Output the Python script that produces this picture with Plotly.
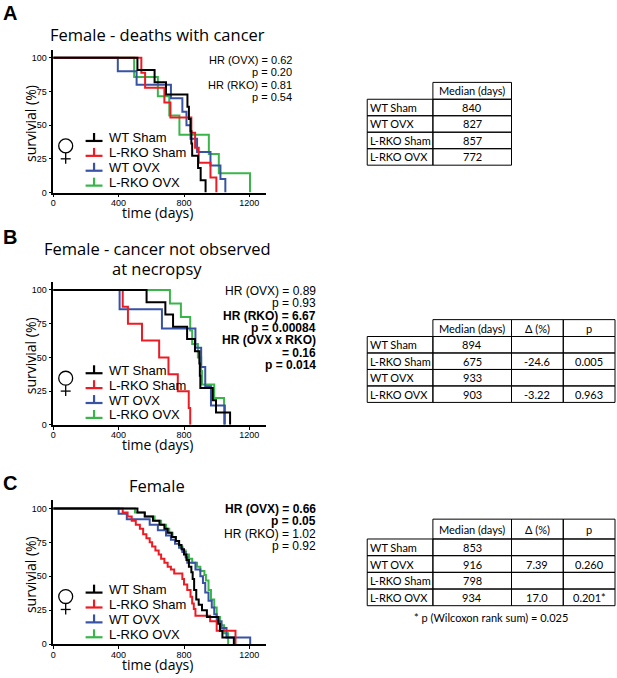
#!/usr/bin/env python3
"""
Kaplan-Meier survival of female WT / L-RKO mice (sham vs OVX), three panels
with hazard-ratio notes and median survival tables.
"""

import plotly.graph_objects as go

W, H = 617, 678

GROUPS = ["WT Sham", "L-RKO Sham", "WT OVX", "L-RKO OVX"]
COLORS = ["#000000", "#ed1c24", "#3953a4", "#39b54a"]
DRAW_ORDER = [3, 2, 1, 0]  # black ends up on top

X_TICKS = [0, 400, 800, 1200]
Y_TICKS = [0, 25, 50, 75, 100]

# --- Panel A: deaths with cancer (time in days, survival in %) ---
a_wt_sham_t = [0, 515, 620, 690, 821, 830, 840, 845, 850, 886, 902, 932]
a_wt_sham_s = [100, 90.9, 81.8, 72.7, 63.6, 54.5, 45.5, 36.4, 27.3, 18.2, 9.1, 0]
a_rko_sham_t = [0, 539, 562, 680, 717, 845, 868, 890, 962, 998]
a_rko_sham_s = [100, 88.9, 77.8, 66.7, 55.6, 44.4, 33.3, 22.2, 11.1, 0]
a_wt_ovx_t = [0, 395, 510, 720, 790, 815, 840, 880, 962, 1023, 1053]
a_wt_ovx_s = [100, 90, 80, 70, 60, 50, 40, 30, 20, 10, 0]
a_rko_ovx_t = [0, 495, 640, 710, 772, 952, 1013, 1204]
a_rko_ovx_s = [100, 85.7, 71.4, 57.1, 42.9, 28.6, 14.3, 0]

# --- Panel B: cancer not observed at necropsy ---
b_wt_sham_t = [0, 571, 686, 733, 819, 867, 894, 897, 900, 976, 996, 1082]
b_wt_sham_s = [100, 90.9, 81.8, 72.7, 63.6, 54.5, 45.5, 36.4, 27.3, 18.2, 9.1, 0]
b_rko_sham_t = [0, 425, 457, 543, 648, 705, 762, 829, 838]
b_rko_sham_s = [100, 87.5, 75, 62.5, 50, 37.5, 25, 12.5, 0]
b_wt_ovx_t = [0, 406, 665, 870, 905, 930, 965, 1050]
b_wt_ovx_s = [100, 85.7, 71.4, 57.1, 42.9, 28.6, 14.3, 0]
b_rko_ovx_t = [0, 714, 781, 838, 850, 885, 905, 910, 985, 1045]
b_rko_ovx_s = [100, 90, 80, 70, 60, 50, 40, 30, 20, 0]

# --- Panel C: all females ---
c_wt_sham_t = [0, 515, 560, 610, 650, 680, 700, 725, 750, 770, 785, 800, 815,
               830, 845, 853, 862, 875, 890, 910, 940, 1010, 1020, 1035, 1105]
c_wt_sham_s = [100, 97, 94, 91, 88, 85, 82, 79, 76, 73, 70, 66, 62,
               57, 53, 48, 40, 33, 29, 25, 20, 15, 10, 5, 0]
c_rko_sham_t = [0, 425, 455, 480, 505, 530, 550, 570, 590, 605, 625, 645, 660, 680,
                700, 720, 740, 790, 800, 820, 840, 850, 860, 870, 960, 1000, 1115]
c_rko_sham_s = [100, 97, 94, 91, 88, 85, 81, 78, 75, 72, 69, 66, 63, 60,
                57, 55, 52, 48, 44, 40, 35, 30, 26, 21, 17, 10, 0]
c_wt_ovx_t = [0, 400, 450, 590, 640, 690, 720, 745, 770, 790, 810, 820,
              870, 900, 916, 930, 950, 970, 985, 1000, 1030, 1060, 1205]
c_wt_ovx_s = [100, 96, 92, 88, 84, 80, 77, 74, 71, 68, 64, 60,
              55, 50, 45, 38, 32, 27, 22, 17, 12, 5, 0]
c_rko_ovx_t = [0, 500, 560, 620, 660, 690, 710, 730, 750, 770, 790, 810, 830,
               850, 880, 900, 925, 934, 950, 965, 985, 1000, 1020, 1045, 1070]
c_rko_ovx_s = [100, 97, 94, 91, 88, 85, 82, 79, 76, 72, 69, 66, 63,
               60, 57, 54, 51, 47, 40, 33, 27, 20, 14, 8, 0]

# --- Hazard ratio notes ---
A_STATS = ["HR (OVX) = 0.62", "p = 0.20", "HR (RKO) = 0.81", "p = 0.54"]
B_STATS = ["HR (OVX) = 0.89", "p = 0.93", "<b>HR (RKO) = 6.67</b>", "<b>p = 0.00084</b>",
           "<b>HR (OVX x RKO)</b>", "<b>= 0.16</b>", "<b>p = 0.014</b>"]
C_STATS = ["<b>HR (OVX) = 0.66</b>", "<b>p = 0.05</b>", "HR (RKO) = 1.02", "p = 0.92"]

# --- Median tables ---
A_HEADER = ["Median (days)"]
A_ROWS = ["WT Sham", "WT OVX", "L-RKO Sham", "L-RKO OVX"]
A_MEDIAN = ["840", "827", "857", "772"]

BC_HEADER = ["Median (days)", "Δ (%)", "p"]
B_ROWS = ["WT Sham", "L-RKO Sham", "WT OVX", "L-RKO OVX"]
B_MEDIAN = ["894", "675", "933", "903"]
B_DELTA = ["", "-24.6", "", "-3.22"]
B_P = ["", "0.005", "", "0.963"]

C_ROWS = ["WT Sham", "WT OVX", "L-RKO Sham", "L-RKO OVX"]
C_MEDIAN = ["853", "916", "798", "934"]
C_DELTA = ["", "7.39", "", "17.0"]
C_P = ["", "0.260", "", "0.201*"]
C_NOTE = "* p (Wilcoxon rank sum) = 0.025"

SANS = "Liberation Sans, Arial, sans-serif"
TITLE_FONT = "Open Sans, sans-serif"
TABLE_FONT = "Lato, sans-serif"
TABLE_SIZE = 11


def px(x):
    return x / W


def py(y):
    return 1 - y / H


def text(s, x, y, size, family=SANS, xanchor="center", yanchor="middle", angle=0):
    return dict(text=s, x=px(x), y=py(y), xref="paper", yref="paper",
                xanchor=xanchor, yanchor=yanchor, showarrow=False, textangle=angle,
                borderpad=0, font=dict(size=size, family=family, color="black"))


def line(x0, y0, x1, y1, color="black", width=1):
    return dict(type="line", xref="paper", yref="paper",
                x0=px(x0), y0=py(y0), x1=px(x1), y1=py(y1),
                line=dict(color=color, width=width))


def female_sign(shapes, cx, cy):
    """Thin-stroke venus symbol drawn with shapes (ring centre cx, cy)."""
    r = 7
    shapes.append(dict(type="circle", xref="paper", yref="paper",
                       x0=px(cx - r), x1=px(cx + r), y0=py(cy + r), y1=py(cy - r),
                       line=dict(color="black", width=1.3)))
    shapes.append(line(cx, cy + r, cx, cy + r + 11, width=1.3))
    shapes.append(line(cx - 5, cy + r + 6, cx + 5, cy + r + 6, width=1.3))


def add_panel(fig, n, curves, top, bottom, annotations, shapes, legend_y, venus_y,
              stats, stats_x, stats_y, stats_size, letter, letter_y, titles, title_ys):
    """One KM plot with its legend, notes and labels. top/bottom in pixels."""
    suffix = "" if n == 1 else str(n)
    for i in DRAW_ORDER:
        t, s = curves[i]
        fig.add_trace(go.Scatter(
            x=t, y=s, mode="lines", line=dict(color=COLORS[i], width=2, shape="hv"),
            xaxis="x" + suffix, yaxis="y" + suffix, showlegend=False, hoverinfo="skip"))

    axis_common = dict(showline=True, linecolor="black", linewidth=1.5, ticks="outside",
                       ticklen=3, tickwidth=1.2, tickcolor="black", showgrid=False,
                       zeroline=False, tickfont=dict(size=9, family=SANS, color="black"))
    fig.update_layout(**{
        "xaxis" + suffix: dict(domain=[px(50.5), px(264)], anchor="y" + suffix,
                               range=[0, 1300], tickvals=X_TICKS, ticklabelstandoff=-2,
                               **axis_common),
        "yaxis" + suffix: dict(domain=[py(bottom), py(top)], anchor="x" + suffix,
                               range=[0, 106], tickvals=Y_TICKS, **axis_common),
    })

    # axis titles
    annotations.append(text("survivial (%)", 27, (top + bottom) / 2 + 2, 14,
                            TITLE_FONT, angle=-90))
    annotations.append(text("time (days)", 155, bottom + 20, 14, TITLE_FONT))

    # legend (drawn by hand to get the KM-style marker)
    for k, (name, color) in enumerate(zip(GROUPS, COLORS)):
        yc = legend_y[k]
        shapes.append(line(83, yc + 3, 100, yc + 3, color, 2.2))
        shapes.append(line(91.5, yc - 5, 91.5, yc + 3, color, 2.2))
        annotations.append(text(name, 106, yc, 13, xanchor="left"))
    female_sign(shapes, 63, venus_y)

    # hazard ratio notes
    for k, s in enumerate(stats):
        annotations.append(text(s, stats_x, stats_y[k], stats_size, xanchor="right"))

    # panel letter and title
    annotations.append(text("<b>" + letter + "</b>", -1, letter_y, 20,
                            xanchor="left"))
    for s, ty in zip(titles, title_ys):
        annotations.append(text(s, 155, ty, 16.5, TITLE_FONT))


def add_table(annotations, shapes, header, rows, columns, col_x, top, header_h, row_h):
    """Median table: blank corner cell, bordered header and body cells."""
    label_x0, col_edges = col_x[0], col_x[1:]
    # header cells
    for j, h in enumerate(header):
        x0, x1 = col_edges[j], col_edges[j + 1]
        shapes.append(dict(type="rect", xref="paper", yref="paper",
                           x0=px(x0), x1=px(x1), y0=py(top + header_h), y1=py(top),
                           line=dict(color="black", width=1)))
        annotations.append(text(h, (x0 + x1) / 2, top + header_h / 2, TABLE_SIZE,
                                TABLE_FONT))
    # body
    for i, r in enumerate(rows):
        y0 = top + header_h + i * row_h
        edges = [label_x0] + col_edges
        for j in range(len(edges) - 1):
            shapes.append(dict(type="rect", xref="paper", yref="paper",
                               x0=px(edges[j]), x1=px(edges[j + 1]),
                               y0=py(y0 + row_h), y1=py(y0),
                               line=dict(color="black", width=1)))
        annotations.append(text(r, label_x0 + 1.5, y0 + row_h / 2, TABLE_SIZE,
                                TABLE_FONT, xanchor="left"))
        for j, col in enumerate(columns):
            if col[i]:
                annotations.append(text(col[i], (col_edges[j] + col_edges[j + 1]) / 2,
                                        y0 + row_h / 2, TABLE_SIZE, TABLE_FONT))


def create_chart():
    fig = go.Figure()
    annotations, shapes = [], []

    add_panel(fig, 1,
              [(a_wt_sham_t, a_wt_sham_s), (a_rko_sham_t, a_rko_sham_s),
               (a_wt_ovx_t, a_wt_ovx_s), (a_rko_ovx_t, a_rko_ovx_s)],
              50, 194, annotations, shapes, [139, 154, 169, 184], 147,
              A_STATS, 291, [60, 72.7, 85.3, 98], 11,
              "A", 13, ["Female - deaths with cancer"], [35])
    add_panel(fig, 2,
              [(b_wt_sham_t, b_wt_sham_s), (b_rko_sham_t, b_rko_sham_s),
               (b_wt_ovx_t, b_wt_ovx_s), (b_rko_ovx_t, b_rko_ovx_s)],
              284, 428, annotations, shapes, [373, 388, 403, 418], 381,
              B_STATS, 316, [293, 305.5, 318, 330.5, 343, 355.5, 368], 12,
              "B", 239, ["Female - cancer not observed", "at necropsy"], [250, 270])
    add_panel(fig, 3,
              [(c_wt_sham_t, c_wt_sham_s), (c_rko_sham_t, c_rko_sham_s),
               (c_wt_ovx_t, c_wt_ovx_s), (c_rko_ovx_t, c_rko_ovx_s)],
              504, 649, annotations, shapes, [594, 609, 624, 639], 601,
              C_STATS, 316, [513, 525, 537.5, 550], 12,
              "C", 487, ["Female"], [489])

    add_table(annotations, shapes, A_HEADER, A_ROWS, [A_MEDIAN],
              [366, 432, 511], 83, 17, 16.6)
    add_table(annotations, shapes, BC_HEADER, B_ROWS, [B_MEDIAN, B_DELTA, B_P],
              [366, 432, 511, 563, 615], 322, 17, 16.6)
    add_table(annotations, shapes, BC_HEADER, C_ROWS, [C_MEDIAN, C_DELTA, C_P],
              [366, 432, 511, 563, 615], 523, 20, 16.8)
    annotations.append(text(C_NOTE, 490, 622, TABLE_SIZE, TABLE_FONT))

    fig.update_layout(
        width=W, height=H,
        margin=dict(l=0, r=0, t=0, b=0),
        paper_bgcolor="white", plot_bgcolor="white",
        showlegend=False,
        annotations=annotations, shapes=shapes,
    )
    return fig


def main():
    fig = create_chart()
    # drop the browser's default body margin so the figure sits at the corner
    fig.write_html("out.html", config={"displayModeBar": False},
                   post_script="document.body.style.margin='0';")
    print("Saved: out.html")


if __name__ == "__main__":
    main()
